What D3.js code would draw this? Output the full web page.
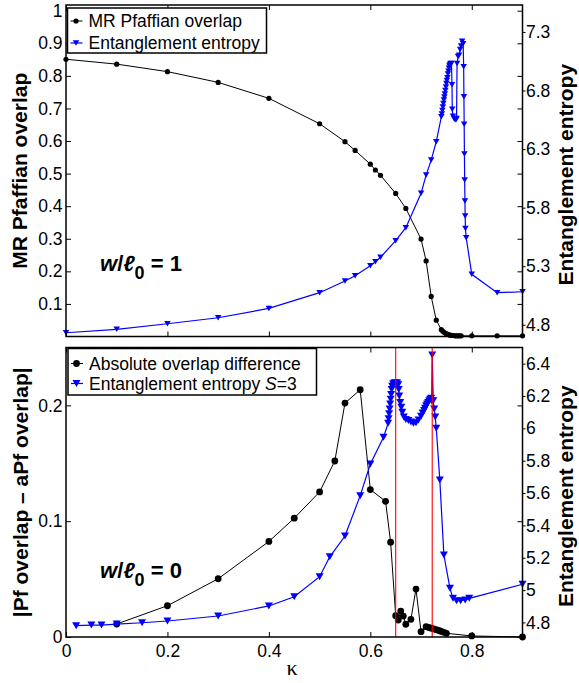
<!DOCTYPE html>
<html>
<head>
<meta charset="utf-8">
<script src="https://cdn.jsdelivr.net/npm/d3@7"></script>
<style>
  body { margin: 0; background: #fff; }
  svg { display: block; }
  text { font-family: "Liberation Sans", Arial, Helvetica, sans-serif; fill: #000; }
</style>
</head>
<body>
<svg id="chart" width="579" height="683"></svg>
<script>
// ---------- Upper panel (w/l0 = 1) ----------
const kappaOverlapTop = [0, 0.1, 0.2, 0.3, 0.4, 0.5, 0.55, 0.57, 0.6, 0.61, 0.62, 0.65, 0.67, 0.70, 0.71, 0.72, 0.73, 0.74,
  0.743, 0.746, 0.749, 0.752, 0.755, 0.758, 0.761, 0.764, 0.767, 0.770, 0.773, 0.776, 0.779, 0.8, 0.85, 0.9];
const overlapTop = [0.851, 0.836, 0.813, 0.780, 0.731, 0.653, 0.598, 0.571, 0.529, 0.511, 0.495, 0.439, 0.393, 0.299, 0.232, 0.123, 0.050, 0.021,
  0.016, 0.012, 0.009, 0.007, 0.005, 0.004, 0.003, 0.003, 0.002, 0.002, 0.002, 0.002, 0.002, 0.002, 0.002, 0.002];

const kappaEntropyTop = [0, 0.1, 0.2, 0.3, 0.4, 0.5, 0.55, 0.57, 0.6, 0.61, 0.62, 0.65, 0.67, 0.70, 0.71, 0.72, 0.73, 0.74,
  0.741, 0.742, 0.743, 0.744, 0.745, 0.746, 0.747, 0.748, 0.749, 0.750, 0.751, 0.752, 0.753, 0.754, 0.755, 0.756, 0.757,
  0.758, 0.760, 0.761, 0.7615, 0.763, 0.765, 0.767, 0.769, 0.770,
  0.771, 0.773, 0.775, 0.777, 0.779, 0.781, 0.783,
  0.784, 0.7845, 0.785, 0.7855, 0.786, 0.7865, 0.787, 0.7875, 0.789, 0.80, 0.85, 0.9];
const entropyTop = [4.732, 4.761, 4.809, 4.860, 4.940, 5.074, 5.174, 5.219, 5.304, 5.338, 5.376, 5.518, 5.629, 5.922, 6.078, 6.206, 6.363, 6.576,
  6.60, 6.63, 6.66, 6.69, 6.72, 6.745, 6.77, 6.80, 6.83, 6.86, 6.885, 6.91, 6.94, 6.965, 6.99, 7.01, 7.02,
  7.03, 7.03, 6.85, 6.64, 6.58, 6.56, 6.55, 6.55, 6.56,
  7.03, 7.09, 7.10, 7.15, 7.18, 7.22, 7.20,
  7.003, 6.747, 6.511, 6.258, 6.036, 5.857, 5.728, 5.623, 5.543, 5.231, 5.074, 5.082];

// ---------- Lower panel (w/l0 = 0) ----------
const kappaDiffBottom = [0.1, 0.2, 0.3, 0.4, 0.45, 0.5, 0.53, 0.55, 0.58, 0.6, 0.63, 0.64, 0.65, 0.655, 0.66, 0.665, 0.67, 0.68, 0.69,
  0.70, 0.71, 0.715, 0.72, 0.725, 0.73, 0.735, 0.74, 0.745, 0.75, 0.8, 0.9];
const diffBottom = [0.0112, 0.027, 0.0503, 0.0825, 0.1026, 0.1253, 0.152, 0.202, 0.2135, 0.1273, 0.1172, 0.0819, 0.0184, 0.0147, 0.0224, 0.0181, 0.011, 0.0153, 0.0414,
  0.0046, 0.0089, 0.0082, 0.0076, 0.0070, 0.0063, 0.0056, 0.0048, 0.0040, 0.0032, 0.0009, 0.0];

const kappaEntropyBottom = [0.02, 0.05, 0.07, 0.1, 0.15, 0.2, 0.3, 0.4, 0.45, 0.5, 0.52, 0.55, 0.58, 0.6, 0.626, 0.635,
  0.636, 0.637, 0.638, 0.639, 0.640, 0.641, 0.642, 0.643, 0.645, 0.647, 0.649, 0.651, 0.653, 0.655, 0.656, 0.657, 0.659, 0.661, 0.663, 0.666,
  0.670, 0.675, 0.680, 0.685, 0.690, 0.695, 0.700,
  0.703, 0.706, 0.708, 0.710, 0.712, 0.714, 0.716, 0.718, 0.720, 0.721,
  0.722,
  0.724, 0.726, 0.728, 0.730, 0.737, 0.745, 0.757, 0.763, 0.770, 0.778, 0.787, 0.795, 0.9];
const entropyBottom = [4.780, 4.784, 4.784, 4.790, 4.798, 4.809, 4.840, 4.902, 4.959, 5.083, 5.206, 5.334, 5.584, 5.780, 5.945, 6.031,
  6.06, 6.09, 6.12, 6.15, 6.18, 6.21, 6.24, 6.26, 6.275, 6.28, 6.28, 6.28, 6.28, 6.27, 6.24, 6.20, 6.16, 6.13, 6.10, 6.07,
  6.055, 6.048, 6.04, 6.031, 6.035, 6.052, 6.075,
  6.095, 6.11, 6.125, 6.14, 6.15, 6.16, 6.17, 6.18, 6.186, 6.17,
  6.454,
  6.17, 6.12, 6.07, 6.00, 5.681, 5.217, 5.011, 4.949, 4.934, 4.934, 4.939, 4.949, 5.036];

// Transition markers (red verticals)
const transitionKappa = [0.65, 0.722];

// Tick values
const kappaTicks = [0, 0.2, 0.4, 0.6, 0.8];
const overlapTicksTop = [0.1, 0.2, 0.3, 0.4, 0.5, 0.6, 0.7, 0.8, 0.9, 1];
const entropyTicksTop = [4.8, 5.3, 5.8, 6.3, 6.8, 7.3];
const diffTicksBottom = [0, 0.1, 0.2];
const entropyTicksBottom = [4.8, 5, 5.2, 5.4, 5.6, 5.8, 6, 6.2, 6.4];

const svg = d3.select("#chart");
const BLUE = "#0000ff";
const fmt = d => String(+d.toFixed(2));

const x = d3.scaleLinear().domain([0, 0.9]).range([66, 522.5]);

const panels = [
  {
    top: 5, bottom: 336.5,
    left: d3.scaleLinear().domain([0, 1.0175]),
    right: d3.scaleLinear().domain([4.7, 7.53]),
    leftTicks: overlapTicksTop, rightTicks: entropyTicksTop,
    black: d3.zip(kappaOverlapTop, overlapTop),
    blue: d3.zip(kappaEntropyTop, entropyTop),
    dotR: 2.6, triW: 6.5, triH: 5.5,
    showKappaLabels: false,
    leftLabel: "MR Pfaffian overlap", leftLabelX: 27,
    rightLabel: "Entanglement entropy",
    note: "1", noteY: 271,
    legend: { x0: 67.5, y0: 8, x1: 266.5, y1: 53, rows: [21, 43],
      texts: [["MR Pfaffian overlap"], ["Entanglement entropy"]] },
    reds: []
  },
  {
    top: 347.5, bottom: 637,
    left: d3.scaleLinear().domain([0, 0.25]),
    right: d3.scaleLinear().domain([4.71, 6.5]),
    leftTicks: diffTicksBottom, rightTicks: entropyTicksBottom,
    black: d3.zip(kappaDiffBottom, diffBottom),
    blue: d3.zip(kappaEntropyBottom, entropyBottom),
    dotR: 3.4, triW: 8, triH: 7,
    showKappaLabels: true,
    leftLabel: "|Pf overlap \u2013 aPf overlap|", leftLabelX: 28,
    rightLabel: "Entanglement entropy",
    note: "0", noteY: 578,
    legend: { x0: 68, y0: 348.5, x1: 316.5, y1: 395, rows: [363.5, 383.5],
      texts: [["Absolute overlap difference"], ["Entanglement entropy ", "S", "=3"]] },
    reds: transitionKappa
  }
];

panels.forEach(p => {
  p.left.range([p.bottom, p.top]);
  p.right.range([p.bottom, p.top]);
  const g = svg.append("g");
  const xl = x.range()[0], xr = x.range()[1];

  // frame ticks: left axis (inward), mirrored on the right side
  g.append("g").attr("transform", `translate(${xl},0)`)
    .call(d3.axisLeft(p.left).tickValues(p.leftTicks).tickSize(-5).tickSizeOuter(0).tickPadding(3.5).tickFormat(fmt))
    .call(a => a.select(".domain").remove())
    .call(a => a.selectAll("text").style("font-size", "17.5px"));
  g.append("g").attr("transform", `translate(${xr},0)`)
    .call(d3.axisRight(p.left).tickValues(p.leftTicks).tickSize(-5).tickSizeOuter(0).tickFormat(""))
    .call(a => a.select(".domain").remove());

  // right (entropy) axis: short outward ticks with labels
  g.append("g").attr("transform", `translate(${xr},0)`)
    .call(d3.axisRight(p.right).tickValues(p.rightTicks).tickSize(3).tickSizeOuter(0).tickPadding(0.5).tickFormat(fmt))
    .call(a => a.select(".domain").remove())
    .call(a => a.selectAll("text").style("font-size", "17.5px"));

  // kappa ticks bottom and top (inward)
  g.append("g").attr("transform", `translate(0,${p.bottom})`)
    .call(d3.axisBottom(x).tickValues(kappaTicks).tickSize(-5).tickSizeOuter(0).tickPadding(8)
      .tickFormat(p.showKappaLabels ? fmt : ""))
    .call(a => a.select(".domain").remove())
    .call(a => a.selectAll("text").style("font-size", "17.5px"));
  g.append("g").attr("transform", `translate(0,${p.top})`)
    .call(d3.axisTop(x).tickValues(kappaTicks).tickSize(-5).tickSizeOuter(0).tickFormat(""))
    .call(a => a.select(".domain").remove());

  // black series (overlap)
  const lineB = d3.line().x(d => x(d[0])).y(d => p.left(d[1]));
  g.append("path").datum(p.black).attr("d", lineB)
    .attr("fill", "none").attr("stroke", "#000").attr("stroke-width", 1);
  g.selectAll(".dot").data(p.black).join("circle")
    .attr("cx", d => x(d[0])).attr("cy", d => p.left(d[1])).attr("r", p.dotR).attr("fill", "#000");

  // blue series (entanglement entropy)
  const lineE = d3.line().x(d => x(d[0])).y(d => p.right(d[1]));
  g.append("path").datum(p.blue).attr("d", lineE)
    .attr("fill", "none").attr("stroke", BLUE).attr("stroke-width", 1.2);
  const tri = `M${-p.triW / 2},${-p.triH / 2}L${p.triW / 2},${-p.triH / 2}L0,${p.triH / 2}Z`;
  g.selectAll(".tri").data(p.blue).join("path")
    .attr("d", tri).attr("fill", BLUE)
    .attr("transform", d => `translate(${x(d[0])},${p.right(d[1])})`);

  // red transition lines
  g.selectAll(".red").data(p.reds).join("line")
    .attr("x1", d => x(d)).attr("x2", d => x(d))
    .attr("y1", p.top).attr("y2", p.bottom)
    .attr("stroke", "#ff0000").attr("stroke-width", 1.1);

  // frame
  g.append("rect").attr("x", xl).attr("y", p.top).attr("width", xr - xl).attr("height", p.bottom - p.top)
    .attr("fill", "none").attr("stroke", "#000").attr("stroke-width", 1.5);

  // axis titles
  const midY = (p.top + p.bottom) / 2;
  g.append("text").attr("transform", `translate(${p.leftLabelX},${midY}) rotate(-90)`)
    .attr("text-anchor", "middle").style("font-size", "21px").style("font-weight", "bold")
    .text(p.leftLabel);
  g.append("text").attr("transform", `translate(573,${midY + 4}) rotate(-90)`)
    .attr("text-anchor", "middle").style("font-size", "21px").style("font-weight", "bold")
    .text(p.rightLabel);

  // panel annotation w/l0
  const note = g.append("text").attr("x", 100).attr("y", p.noteY)
    .style("font-size", "22px").style("font-weight", "bold");
  note.append("tspan").style("font-style", "italic").text("w");
  note.append("tspan").text("/");
  note.append("tspan").style("font-style", "italic").text("\u2113");
  note.append("tspan").attr("dy", 8).style("font-size", "18px").text("0");
  note.append("tspan").attr("dy", -8).text(" = " + p.note);

  // legend
  const L = p.legend;
  const lg = g.append("g");
  lg.append("rect").attr("x", L.x0).attr("y", L.y0).attr("width", L.x1 - L.x0).attr("height", L.y1 - L.y0)
    .attr("fill", "#fff").attr("stroke", "#000").attr("stroke-width", 1.5);
  const colors = ["#000", BLUE];
  L.rows.forEach((ry, i) => {
    lg.append("line").attr("x1", L.x0 + 3).attr("x2", L.x0 + 15).attr("y1", ry).attr("y2", ry)
      .attr("stroke", colors[i]).attr("stroke-width", i ? 1.2 : 1);
    if (i === 0) {
      lg.append("circle").attr("cx", L.x0 + 8.5).attr("cy", ry).attr("r", p.dotR).attr("fill", "#000");
    } else {
      lg.append("path").attr("d", tri).attr("fill", BLUE).attr("transform", `translate(${L.x0 + 8.5},${ry})`);
    }
    const t = lg.append("text").attr("x", L.x0 + 21).attr("y", ry + 6).style("font-size", "17.5px");
    L.texts[i].forEach((s, j) => {
      const ts = t.append("tspan").text(s);
      if (L.texts[i].length > 1 && j === 1) ts.style("font-style", "italic");
    });
  });
});

// kappa axis title
svg.append("text").attr("x", 292).attr("y", 675).attr("text-anchor", "middle")
  .style("font-family", "'Liberation Serif', 'DejaVu Serif', serif").style("font-size", "22px")
  .text("\u03BA");
</script>
</body>
</html>
